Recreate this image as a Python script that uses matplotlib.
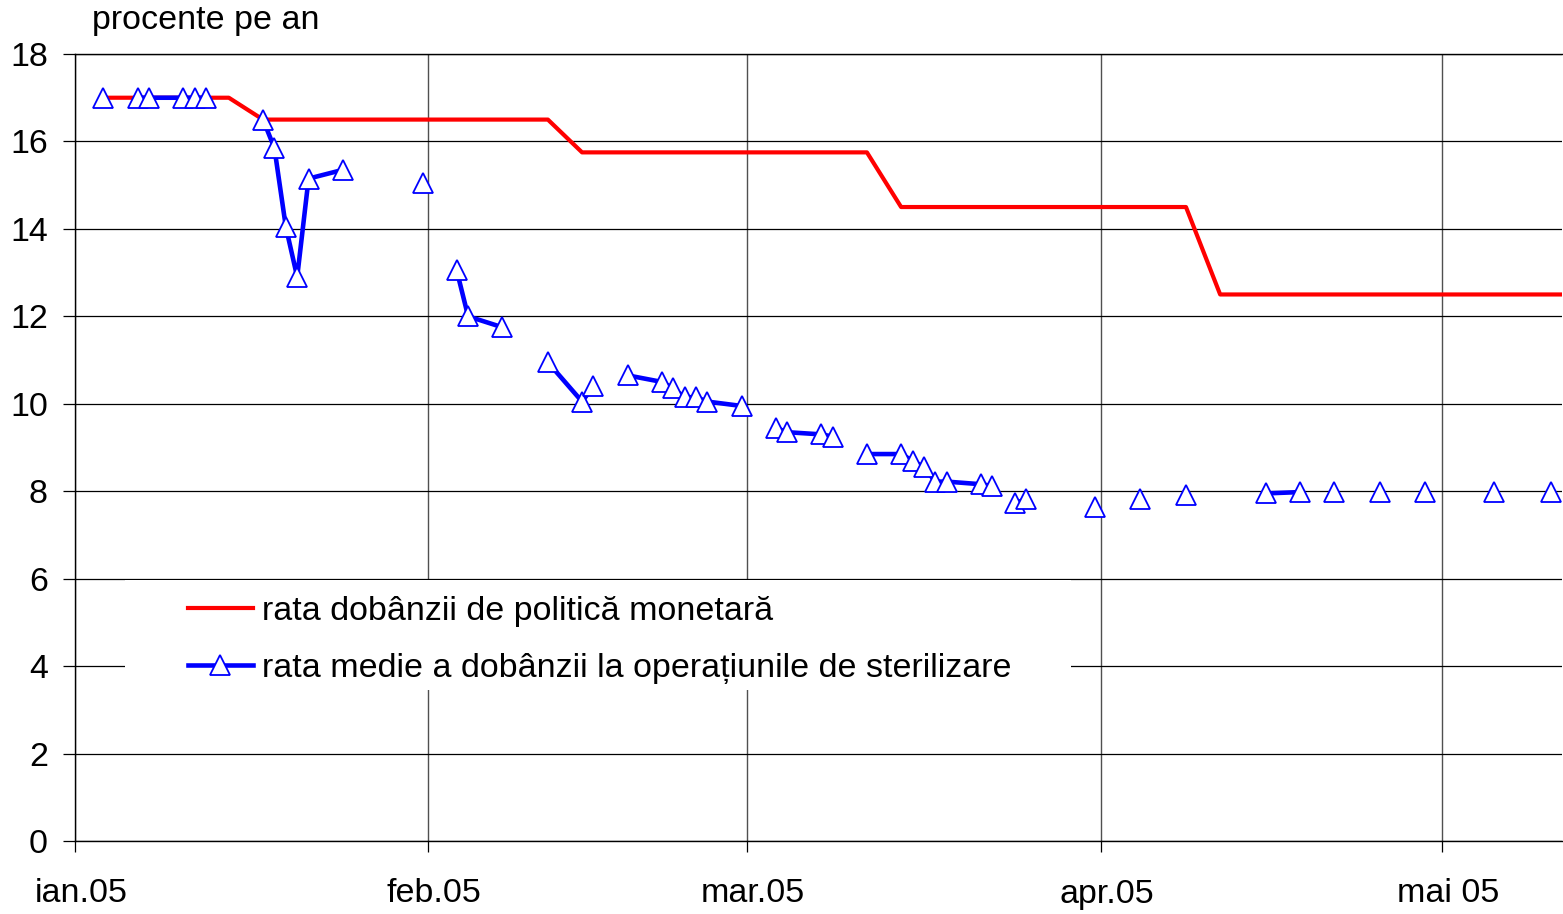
import numpy as np
import pandas as pd
import matplotlib
matplotlib.use("Agg")
import matplotlib.pyplot as plt
import matplotlib.transforms as mtransforms
from matplotlib.patches import Rectangle

plt.rcParams['font.family'] = ['Liberation Sans', 'DejaVu Sans']

# rata dobanzii de politica monetara (puncte de schimbare, zile lucratoare)
policy_dates = ["2005-01-03", "2005-01-14", "2005-01-17", "2005-02-11", "2005-02-14",
                "2005-03-11", "2005-03-14", "2005-04-08", "2005-04-11", "2005-05-11"]
policy_rate = [17.0, 17.0, 16.5, 16.5, 15.75, 15.75, 14.5, 14.5, 12.5, 12.5]

# rata medie a dobanzii la operatiunile de sterilizare (NaN = fara operatiuni)
steril_dates = ["2005-01-03", "2005-01-04",
                "2005-01-06", "2005-01-07", "2005-01-10", "2005-01-11", "2005-01-12", "2005-01-13",
                "2005-01-17", "2005-01-18", "2005-01-19", "2005-01-20", "2005-01-21", "2005-01-24",
                "2005-01-25",
                "2005-01-31", "2005-02-01",
                "2005-02-03", "2005-02-04", "2005-02-07", "2005-02-08",
                "2005-02-11", "2005-02-14", "2005-02-15", "2005-02-16",
                "2005-02-18", "2005-02-21", "2005-02-22", "2005-02-23", "2005-02-24", "2005-02-25",
                "2005-02-28", "2005-03-01",
                "2005-03-03", "2005-03-04", "2005-03-07", "2005-03-08", "2005-03-09",
                "2005-03-11", "2005-03-14", "2005-03-15", "2005-03-16", "2005-03-17", "2005-03-18",
                "2005-03-21", "2005-03-22", "2005-03-23",
                "2005-03-24", "2005-03-25", "2005-03-28",
                "2005-03-31", "2005-04-01",
                "2005-04-04", "2005-04-05",
                "2005-04-08", "2005-04-11",
                "2005-04-15", "2005-04-18", "2005-04-19",
                "2005-04-21", "2005-04-22",
                "2005-04-25", "2005-04-26",
                "2005-04-29", "2005-05-02",
                "2005-05-05", "2005-05-06",
                "2005-05-10"]
steril_rate = [17.0, np.nan,
               17.0, 17.0, 17.0, 17.0, 17.0, np.nan,
               16.5, 15.85, 14.05, 12.9, 15.15, 15.35,
               np.nan,
               15.05, np.nan,
               13.05, 12.0, 11.75, np.nan,
               10.95, 10.05, 10.4, np.nan,
               10.65, 10.5, 10.35, 10.15, 10.15, 10.05,
               9.95, np.nan,
               9.45, 9.35, 9.3, 9.25, np.nan,
               8.85, 8.85, 8.7, 8.55, 8.22, 8.22,
               8.16, 8.12, np.nan,
               7.72, 7.83, np.nan,
               7.64, np.nan,
               7.83, np.nan,
               7.91, np.nan,
               7.95, 7.98, np.nan,
               7.98, np.nan,
               7.98, np.nan,
               7.98, np.nan,
               7.98, np.nan,
               7.98]

month_ticks = ["2005-01-01", "2005-02-01", "2005-03-01", "2005-04-01", "2005-05-01"]
month_labels = ["ian.05", "feb.05", "mar.05", "apr.05", "mai 05"]
y_ticks = [0, 2, 4, 6, 8, 10, 12, 14, 16, 18]

label_policy = "rata dobânzii de politică monetară"
label_steril = "rata medie a dobânzii la operațiunile de sterilizare"

FS = 24.5
half_day = pd.Timedelta(hours=12)

fig = plt.figure(figsize=(15.63, 9.14), dpi=100)
ax = fig.add_axes([75 / 1563, 1 - 841 / 914, 1487 / 1563, 787 / 914])

x_pol = pd.to_datetime(policy_dates) + half_day
x_ster = pd.to_datetime(steril_dates) + half_day

ax.plot(x_pol, policy_rate, color='#ff0000', lw=3.0, zorder=2, label=label_policy)
ax.plot(x_ster, steril_rate, color='#0000ff', lw=3.3, zorder=3,
        marker='^', markersize=14, markerfacecolor='white', markeredgecolor='#0000ff',
        markeredgewidth=1.3, label=label_steril)

ax.set_xlim(pd.Timestamp("2005-01-01"), pd.Timestamp("2005-05-11 12:00"))
ax.set_ylim(0, 18)
ax.set_yticks(y_ticks)
ax.set_xticks(pd.to_datetime(month_ticks))
ax.set_xticklabels(month_labels)

ax.set_axisbelow(True)
ax.grid(axis='y', color='black', lw=0.9)
ax.grid(axis='x', color='#505050', lw=1.0)

ax.spines['right'].set_visible(False)
for side in ['left', 'bottom', 'top']:
    ax.spines[side].set_color('black')
    ax.spines[side].set_linewidth(1.0)

ax.tick_params(axis='y', direction='out', length=8.5, width=0.9, pad=11, labelsize=FS)
ax.tick_params(axis='x', direction='out', length=8, width=0.9, pad=19, labelsize=FS)

# etichetele lunilor sunt putin deplasate la dreapta in original
shift = mtransforms.ScaledTranslation(6 / 100, 0, fig.dpi_scale_trans)
for lbl in ax.get_xticklabels():
    lbl.set_transform(lbl.get_transform() + shift)

# fundal alb al legendei (acopera grila)
ax.add_patch(Rectangle((50 / 1487, 151 / 787), 946 / 1487, 110 / 787,
                       transform=ax.transAxes, facecolor='white', edgecolor='none', zorder=1))

ax.legend(loc='upper left', bbox_to_anchor=(113 / 1487, 245 / 787), frameon=False,
          fontsize=FS, handlelength=1.9, handletextpad=0.27, labelspacing=0.75,
          borderpad=0, borderaxespad=0)

fig.text(92 / 1563, 1 - 21 / 914, "procente pe an", fontsize=FS, va='center', ha='left')

fig.savefig("out.png", dpi=100)
